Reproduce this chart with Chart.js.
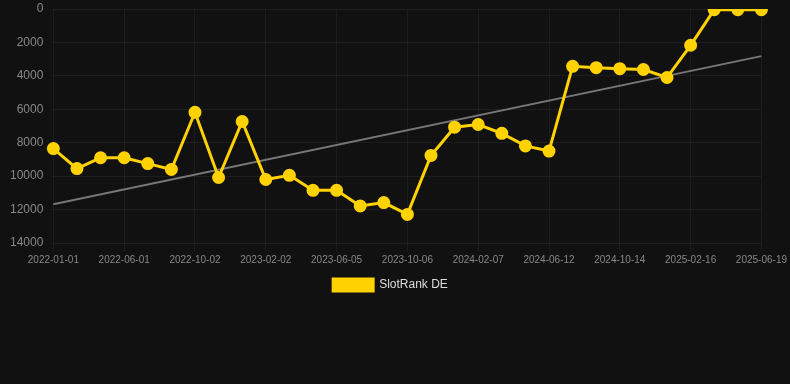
<!DOCTYPE html>
<html lang="de">
<head>
    <meta charset="UTF-8">
    <title>SlotRank DE</title>
    <script src="https://cdn.jsdelivr.net/npm/chart.js"></script>
    <style>
        body { margin: 0; background: #111111; }
        .chart-box { width: 790px; height: 301px; }
    </style>
</head>
<body>
    <div class="chart-box">
        <canvas id="rank-chart" width="790" height="301"></canvas>
    </div>
    <script>
        // Datum pro Messpunkt
        const dates = [
            '2022-01-01', '2022-02-20', '2022-04-11', '2022-06-01', '2022-07-12', '2022-08-22',
            '2022-10-02', '2022-11-12', '2022-12-23', '2023-02-02', '2023-03-15', '2023-04-25',
            '2023-06-05', '2023-07-16', '2023-08-26', '2023-10-06', '2023-11-16', '2023-12-27',
            '2024-02-07', '2024-03-19', '2024-05-01', '2024-06-12', '2024-07-23', '2024-09-02',
            '2024-10-14', '2024-11-24', '2025-01-05', '2025-02-16', '2025-03-29', '2025-05-09',
            '2025-06-19'
        ];
        // Rang (kleiner = besser)
        const slotRank = [
            8350, 9550, 8900, 8900, 9250, 9600, 6180, 10080, 6730, 10200, 9950,
            10850, 10850, 11780, 11580, 12290, 8760, 7070, 6910, 7440, 8190, 8500,
            3430, 3510, 3570, 3620, 4100, 2170, 40, 40, 40
        ];
        // Trendlinie: nur Anfang und Ende
        const trendStart = 11680;
        const trendEnd = 2820;
        const trend = dates.map((d, i) => i === 0 ? trendStart : (i === dates.length - 1 ? trendEnd : null));

        const gridColor = 'rgba(255, 255, 255, 0.05)';
        const tickFont = 'Liberation Sans, Arial, sans-serif';
        const ctx = document.getElementById('rank-chart').getContext('2d');
        new Chart(ctx, {
            type: 'line',
            data: {
                labels: dates,
                datasets: [{
                    label: 'SlotRank DE',
                    data: slotRank,
                    borderColor: '#ffd200',
                    backgroundColor: '#ffd200',
                    borderWidth: 3,
                    pointRadius: 5,
                    pointHoverRadius: 6,
                    tension: 0
                }, {
                    label: 'Trend',
                    data: trend,
                    spanGaps: true,
                    borderColor: '#777777',
                    borderWidth: 2,
                    pointRadius: 0
                }]
            },
            options: {
                responsive: false,
                animation: false,
                layout: { padding: { left: 11, right: 20, top: 0 } },
                scales: {
                    x: {
                        grid: { color: gridColor },
                        border: { display: false },
                        ticks: {
                            color: '#888888',
                            font: { size: 10, family: tickFont },
                            maxRotation: 0,
                            autoSkip: true,
                            maxTicksLimit: 11
                        }
                    },
                    y: {
                        reverse: true,
                        min: 0,
                        max: 14000,
                        grid: { color: gridColor, tickColor: 'transparent', tickLength: 11 },
                        border: { display: false },
                        ticks: {
                            stepSize: 2000,
                            padding: -1,
                            color: '#888888',
                            font: { size: 12, family: tickFont, lineHeight: 1 },
                            callback: value => value
                        }
                    }
                },
                plugins: {
                    legend: {
                        position: 'bottom',
                        labels: {
                            color: '#dddddd',
                            font: { size: 12, family: tickFont },
                            filter: item => item.datasetIndex === 0
                        }
                    },
                    tooltip: { enabled: false }
                }
            }
        });
    </script>
</body>
</html>
